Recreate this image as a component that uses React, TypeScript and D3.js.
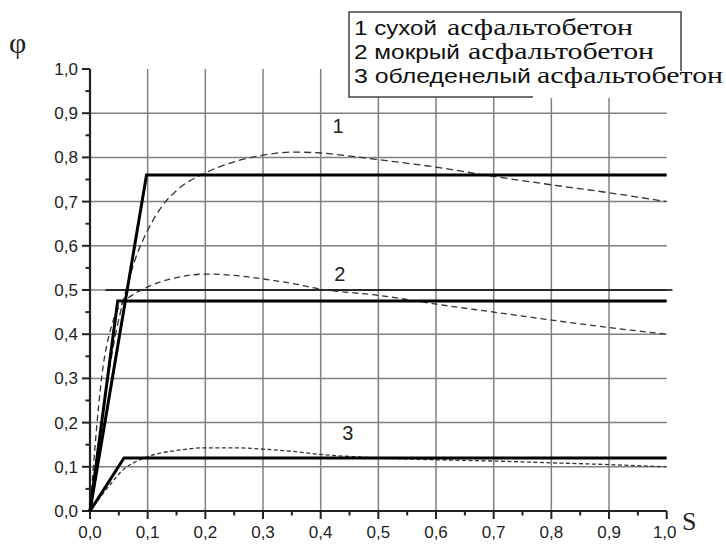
import React from "react";
import * as d3 from "d3";

// ---- data ----
const xTicks = [0, 0.1, 0.2, 0.3, 0.4, 0.5, 0.6, 0.7, 0.8, 0.9, 1.0];
const yTicks = [0, 0.1, 0.2, 0.3, 0.4, 0.5, 0.6, 0.7, 0.8, 0.9, 1.0];
const minorTicks = [0.05, 0.15, 0.25, 0.35, 0.45, 0.55, 0.65, 0.75, 0.85, 0.95];

const solid1X = [0, 0.098, 1.0];
const solid1Y = [0, 0.76, 0.76];
const solid2X = [0, 0.048, 1.0];
const solid2Y = [0, 0.475, 0.475];
const solid3X = [0, 0.059, 1.0];
const solid3Y = [0, 0.12, 0.12];

const dash1X = [0, 0.02, 0.04, 0.064, 0.078, 0.1, 0.125, 0.15, 0.2, 0.25, 0.3, 0.35, 0.4, 0.45, 0.5, 0.6, 0.7, 0.8, 0.9, 1.0];
const dash1Y = [0, 0.2, 0.37, 0.507, 0.568, 0.635, 0.69, 0.725, 0.765, 0.79, 0.805, 0.812, 0.81, 0.803, 0.795, 0.778, 0.757, 0.738, 0.72, 0.7];
const dash2X = [0, 0.02, 0.04, 0.06, 0.074, 0.1, 0.15, 0.2, 0.25, 0.3, 0.35, 0.4, 0.5, 0.6, 0.7, 0.8, 0.9, 1.0];
const dash2Y = [0, 0.3, 0.43, 0.475, 0.489, 0.507, 0.528, 0.536, 0.533, 0.525, 0.515, 0.502, 0.488, 0.468, 0.45, 0.432, 0.415, 0.4];
const dash3X = [0, 0.02, 0.04, 0.057, 0.08, 0.11, 0.15, 0.2, 0.25, 0.3, 0.35, 0.4, 0.5, 0.6, 0.7, 0.8, 0.9, 1.0];
const dash3Y = [0, 0.035, 0.068, 0.093, 0.112, 0.127, 0.137, 0.143, 0.143, 0.14, 0.135, 0.128, 0.12, 0.116, 0.113, 0.109, 0.105, 0.1];

const curveLabels = ["1", "2", "3"];
const curveLabelX = [0.43, 0.433, 0.447];
const curveLabelY = [0.855, 0.52, 0.16];

const legendNums = ["1 сухой", "2 мокрый", "3 обледенелый"];
const legendWord = "асфальтобетон";
const fmt = (v: number) => v.toFixed(1).replace(".", ",");

export default function App() {
  const W = 726, H = 546;
  const x = d3.scaleLinear().domain([0, 1]).range([90, 666.7]);
  const y = d3.scaleLinear().domain([0, 1]).range([511, 69]);
  const toPts = (xs: number[], ys: number[]) => xs.map((v, i) => [v, ys[i]] as [number, number]);
  const straight = d3.line<[number, number]>().x(d => x(d[0])).y(d => y(d[1]));
  const smooth = d3.line<[number, number]>().x(d => x(d[0])).y(d => y(d[1])).curve(d3.curveMonotoneX);

  const sans = "Liberation Sans, Arial, sans-serif";
  const serif = "Liberation Serif, Times New Roman, serif";

  const legendSansW = [83, 106, 177];
  const legendSerifX = [447, 468, 537];
  const legendBase = [35, 59, 83];

  return (
    <svg width={W} height={H} style={{ position: "absolute", left: 0, top: 0, background: "#fff" }}>
      <rect x={0} y={0} width={W} height={H} fill="#fff" />
      {/* grid */}
      {xTicks.filter(t => t > 0 && t < 1).map(t => (
        <line key={"gx" + t} x1={x(t)} x2={x(t)} y1={y(1)} y2={y(0)} stroke="#808080" strokeWidth={1.5} />
      ))}
      {yTicks.filter(t => t > 0 && t < 1).map(t => (
        <line key={"gy" + t} x1={x(0)} x2={x(1)} y1={y(t)} y2={y(t)} stroke="#808080" strokeWidth={1.5} />
      ))}
      {/* 0.5 reference line */}
      <line x1={x(0.027)} x2={x(1.01)} y1={y(0.5)} y2={y(0.5)} stroke="#000" strokeWidth={1.6} />

      {/* axes */}
      <line x1={x(0)} x2={x(0)} y1={y(0)} y2={y(1)} stroke="#222" strokeWidth={2.2} />
      <line x1={x(0)} x2={x(1)} y1={y(0)} y2={y(0)} stroke="#222" strokeWidth={2.2} />
      {yTicks.map(t => (
        <line key={"ty" + t} x1={x(0) - 8} x2={x(0)} y1={y(t)} y2={y(t)} stroke="#222" strokeWidth={2} />
      ))}
      {minorTicks.map(t => (
        <line key={"my" + t} x1={x(0) - 4.5} x2={x(0)} y1={y(t)} y2={y(t)} stroke="#222" strokeWidth={2} />
      ))}
      {xTicks.map(t => (
        <line key={"tx" + t} x1={x(t)} x2={x(t)} y1={y(0)} y2={y(0) + 8} stroke="#222" strokeWidth={2} />
      ))}
      {minorTicks.map(t => (
        <line key={"mx" + t} x1={x(t)} x2={x(t)} y1={y(0)} y2={y(0) + 4.5} stroke="#222" strokeWidth={2} />
      ))}
      {yTicks.map(t => (
        <text key={"ly" + t} x={x(0) - 12} y={y(t) + 6} textAnchor="end" fontFamily={sans} fontSize={17} fill="#222">{fmt(t)}</text>
      ))}
      {xTicks.map(t => (
        <text key={"lx" + t} x={x(t) - (t === 1 ? 2 : 0)} y={y(0) + 27} textAnchor="middle" fontFamily={sans} fontSize={17} fill="#222">{fmt(t)}</text>
      ))}
      <text x={9} y={53} fontFamily={serif} fontSize={30} fill="#222">φ</text>
      <text x={682} y={530} fontFamily={serif} fontSize={26} fill="#222">S</text>

      {/* dashed curves */}
      <path d={smooth(toPts(dash1X, dash1Y)) || ""} fill="none" stroke="#333" strokeWidth={1.3} strokeDasharray="7,4" />
      <path d={smooth(toPts(dash2X, dash2Y)) || ""} fill="none" stroke="#333" strokeWidth={1.3} strokeDasharray="6,4" />
      <path d={smooth(toPts(dash3X, dash3Y)) || ""} fill="none" stroke="#333" strokeWidth={1.3} strokeDasharray="4,2.5" />

      {/* solid curves */}
      <path d={straight(toPts(solid1X, solid1Y)) || ""} fill="none" stroke="#000" strokeWidth={3} strokeLinejoin="miter" />
      <path d={straight(toPts(solid2X, solid2Y)) || ""} fill="none" stroke="#000" strokeWidth={3} strokeLinejoin="miter" />
      <path d={straight(toPts(solid3X, solid3Y)) || ""} fill="none" stroke="#000" strokeWidth={3} strokeLinejoin="miter" />

      {curveLabels.map((l, i) => (
        <text key={"cl" + l} x={x(curveLabelX[i])} y={y(curveLabelY[i])} textAnchor="middle" fontFamily={sans} fontSize={20} fill="#222">{l}</text>
      ))}

      {/* legend */}
      <rect x={349} y={12} width={332} height={85} fill="#fff" />
      <rect x={533} y={70} width={192} height={28} fill="#fff" />
      <path d="M533,97 L349,97 L349,12 L681,12 L681,71" fill="none" stroke="#444" strokeWidth={1.5} />
      {legendNums.map((t, i) => (
        <g key={"lg" + i}>
          <text x={354} y={legendBase[i]} fontFamily={sans} fontSize={20} fill="#111" textLength={legendSansW[i]} lengthAdjust="spacingAndGlyphs">{t}</text>
          <text x={legendSerifX[i]} y={legendBase[i]} fontFamily={serif} fontSize={24} fill="#111" textLength={186} lengthAdjust="spacingAndGlyphs">{legendWord}</text>
        </g>
      ))}
    </svg>
  );
}
